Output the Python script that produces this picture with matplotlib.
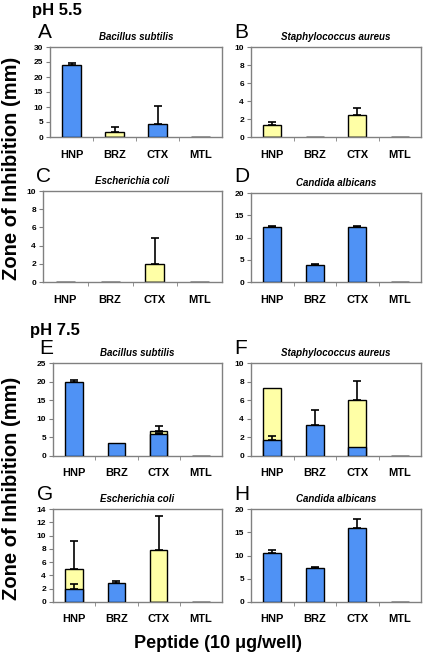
import matplotlib
matplotlib.use("Agg")
import matplotlib.pyplot as plt
import numpy as np

plt.rcParams["font.family"] = ["Liberation Sans", "DejaVu Sans"]

peptides = ["HNP", "BRZ", "CTX", "MTL"]

# blue = clear zone, yellow = total (partial) zone; errors are one-sided (upwards)
panels = [
    # letter, species, blue, blue_err, yellow, yellow_err, ymax, ystep
    ("A", "Bacillus subtilis", [24.0, 0, 4.3, 0], [0.6, 0, 6.0, 0], [0, 1.8, 0, 0], [0, 1.5, 0, 0], 30, 5),
    ("B", "Staphylococcus aureus", [0, 0, 0, 0], [0, 0, 0, 0], [1.3, 0, 2.5, 0], [0.35, 0, 0.7, 0], 10, 2),
    ("C", "Escherichia coli", [0, 0, 0, 0], [0, 0, 0, 0], [0, 0, 2.0, 0], [0, 0, 2.8, 0], 10, 2),
    ("D", "Candida albicans", [12.3, 3.8, 12.3, 0], [0.3, 0.3, 0.3, 0], [0, 0, 0, 0], [0, 0, 0, 0], 20, 5),
    ("E", "Bacillus subtilis", [20.0, 3.5, 5.9, 0], [0.5, 0, 0.4, 0], [0, 0, 6.8, 0], [0, 0, 1.3, 0], 25, 5),
    ("F", "Staphylococcus aureus", [1.7, 3.3, 1.0, 0], [0.4, 1.7, 0, 0], [7.3, 0, 6.0, 0], [0, 0, 2.1, 0], 10, 2),
    ("G", "Escherichia coli", [2.0, 2.8, 0, 0], [0.7, 0.3, 0, 0], [5.0, 0, 7.8, 0], [4.2, 0, 5.2, 0], 14, 2),
    ("H", "Candida albicans", [10.6, 7.3, 15.9, 0], [0.6, 0.2, 1.9, 0], [0, 0, 0, 0], [0, 0, 0, 0], 20, 5),
]

# axes boxes in pixels: left, right, top, bottom
boxes = [
    (50, 222, 47, 137), (251, 421, 47, 137),
    (43, 222, 191, 282), (251, 421, 193, 282),
    (53, 222, 363, 456), (251, 421, 363, 456),
    (53, 222, 509, 602), (251, 421, 509, 602),
]
# panel letter positions (left, vertical centre) in pixels
letter_pos = [(38, 33), (234, 33), (36, 176), (234, 176),
              (39, 349), (234, 349), (37, 495), (234, 495)]

W, H = 424, 656
BLUE = "#4f92f5"
YELLOW = "#ffffa6"
fig = plt.figure(figsize=(W / 100, H / 100), dpi=100)


def px(x, y):
    return x / W, 1 - y / H


for (letter, species, blue, berr, yellow, yerr, ymax, ystep), (l, r, t, b), lp in zip(panels, boxes, letter_pos):
    ax = fig.add_axes([l / W, 1 - b / H, (r - l) / W, (b - t) / H])
    x = np.arange(len(peptides))
    ax.bar(x, yellow, width=0.42, color=YELLOW, edgecolor="black", linewidth=1, zorder=2)
    ax.bar(x, blue, width=0.42, color=BLUE, edgecolor="black", linewidth=1, zorder=3)
    for vals, errs in ((yellow, yerr), (blue, berr)):
        for xi, v, e in zip(x, vals, errs):
            if e > 0:
                ax.errorbar(xi, v, yerr=[[0], [e]], fmt="none", ecolor="black",
                            elinewidth=1.2, capsize=3, capthick=1.2, zorder=4)
    ax.set_xlim(-0.5, 3.5)
    ax.set_ylim(0, ymax)
    ax.set_yticks(np.arange(0, ymax + 0.01, ystep))
    ax.set_xticks(x)
    ax.set_xticklabels(peptides, fontsize=8, fontweight="bold")
    ax.set_xticks(np.arange(0.5, 3.5, 1), minor=True)
    ax.tick_params(axis="x", which="major", length=0, pad=9)
    ax.tick_params(axis="x", which="minor", length=3, color="#808080")
    ax.tick_params(axis="y", length=3, color="#808080", labelsize=6, pad=2)
    for lab in ax.get_yticklabels():
        lab.set_fontweight("bold")
    for s in ax.spines.values():
        s.set_color("#808080")
        s.set_linewidth(1)
    ax.set_title(species, fontsize=7, fontweight="bold", style="italic", pad=5)
    fig.text(*px(*lp), letter, fontsize=15, ha="left", va="center")

fig.text(*px(32, 11), "pH 5.5", fontsize=12, fontweight="bold", ha="left", va="center")
fig.text(*px(30, 331), "pH 7.5", fontsize=12, fontweight="bold", ha="left", va="center")
fig.text(*px(12, 168), "Zone of Inhibition (mm)", fontsize=14.5, fontweight="bold",
         rotation=90, ha="center", va="center")
fig.text(*px(12, 488), "Zone of Inhibition (mm)", fontsize=14.5, fontweight="bold",
         rotation=90, ha="center", va="center")
fig.text(*px(218, 643), "Peptide (10 \u03bcg/well)", fontsize=13, fontweight="bold",
         ha="center", va="center")

fig.savefig("out.png", dpi=100)
